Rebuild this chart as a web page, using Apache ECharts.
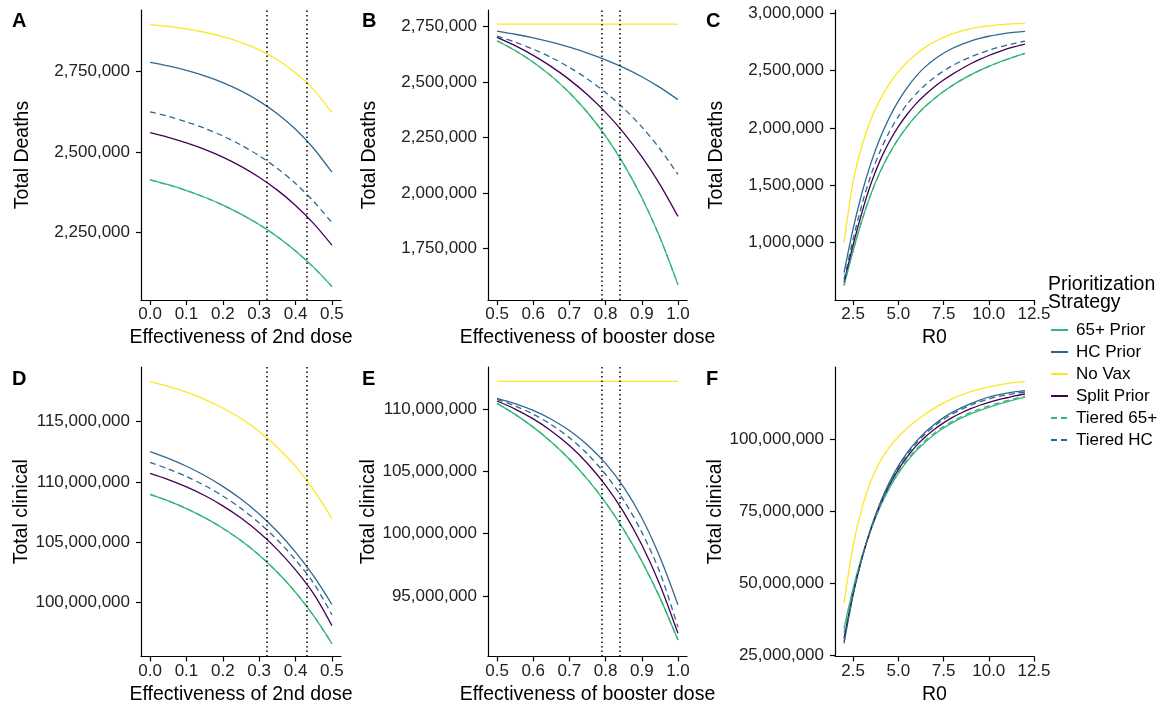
<!DOCTYPE html>
<html>
<head>
<meta charset="utf-8">
<title>Vaccine prioritization strategies</title>
<script src="https://cdn.jsdelivr.net/npm/echarts@6/dist/echarts.min.js"></script>
<style>
  html, body { margin: 0; padding: 0; background: #ffffff; }
  #chart { width: 1162px; height: 710px; }
</style>
</head>
<body>
<div id="chart"></div>
<script>
// ---- x grids ----
const doseX = [0, 0.05, 0.1, 0.15, 0.2, 0.25, 0.3, 0.35, 0.4, 0.45, 0.5];
const boosterX = [0.5, 0.55, 0.6, 0.65, 0.7, 0.75, 0.8, 0.85, 0.9, 0.95, 1.0];
const r0X = [2, 2.5, 3, 3.5, 4, 4.5, 5, 5.5, 6, 6.5, 7, 7.5, 8, 8.5, 9, 9.5, 10, 10.5, 11, 11.5, 12];

// ---- tick labels ----
const doseTicks = [0, 0.1, 0.2, 0.3, 0.4, 0.5];
const boosterTicks = [0.5, 0.6, 0.7, 0.8, 0.9, 1.0];
const r0Ticks = [2.5, 5, 7.5, 10, 12.5];
const deathTicksA = [2250000, 2500000, 2750000];
const deathTicksB = [1750000, 2000000, 2250000, 2500000, 2750000];
const deathTicksC = [1000000, 1500000, 2000000, 2500000, 3000000];
const clinicalTicksD = [100000000, 105000000, 110000000, 115000000];
const clinicalTicksE = [95000000, 100000000, 105000000, 110000000];
const clinicalTicksF = [25000000, 50000000, 75000000, 100000000];

// ---- reference efficacy estimates (dotted lines) ----
const secondDoseMarks = [0.32, 0.43];
const boosterMarks = [0.79, 0.84];

// ---- A: total deaths vs 2nd dose effectiveness ----
const prior65A  = [2413200, 2397900, 2379900, 2359000, 2334700, 2306600, 2273900, 2235900, 2191800, 2140500, 2080900];
const hcA       = [2778900, 2767800, 2754000, 2737100, 2716100, 2690300, 2658400, 2619100, 2570600, 2510800, 2436900];
const noVaxA    = [2896700, 2890800, 2882900, 2872700, 2859200, 2841400, 2818100, 2787300, 2746700, 2693300, 2623000];
const splitA    = [2559900, 2545500, 2528200, 2507900, 2483800, 2455200, 2421300, 2381100, 2333500, 2277000, 2210100];
const tiered65A = [2413200, 2397900, 2379900, 2359000, 2334700, 2306600, 2273900, 2235900, 2191800, 2140500, 2080900];
const tieredHcA = [2625000, 2610800, 2593700, 2573700, 2549800, 2521600, 2488100, 2448600, 2401600, 2345800, 2279800];

// ---- B: total deaths vs booster effectiveness ----
const prior65B  = [2686800, 2642600, 2589800, 2527000, 2452100, 2362900, 2256500, 2130100, 1979200, 1799600, 1585500];
const hcB       = [2730400, 2716000, 2699300, 2679900, 2657400, 2631200, 2600700, 2565300, 2524300, 2476400, 2420900];
const noVaxB    = [2762000, 2762000, 2762000, 2762000, 2762000, 2762000, 2762000, 2762000, 2762000, 2762000, 2762000];
const splitB    = [2701900, 2664300, 2620700, 2570000, 2511200, 2442600, 2363200, 2270800, 2163400, 2038800, 1893900];
const tiered65B = [2686800, 2642600, 2589800, 2527000, 2452100, 2362900, 2256500, 2130100, 1979200, 1799600, 1585500];
const tieredHcB = [2707900, 2680500, 2648300, 2610600, 2566400, 2514300, 2453400, 2381800, 2297900, 2199200, 2083600];

// ---- C: total deaths vs R0 ----
const prior65C  = [628000, 930000, 1200000, 1430000, 1620000, 1775000, 1905000, 2015000, 2110000, 2190000, 2258000, 2318000, 2372000, 2420000, 2463000, 2502000, 2537000, 2569000, 2598000, 2625000, 2650000];
const hcC       = [740000, 1120000, 1440000, 1700000, 1915000, 2090000, 2235000, 2355000, 2455000, 2535000, 2600000, 2652000, 2695000, 2730000, 2758000, 2781000, 2800000, 2815000, 2827000, 2836000, 2843000];
const noVaxC    = [1000000, 1530000, 1850000, 2080000, 2250000, 2385000, 2490000, 2575000, 2645000, 2705000, 2752000, 2790000, 2822000, 2847000, 2866000, 2880000, 2891000, 2899000, 2905000, 2910000, 2913000];
const splitC    = [651000, 980000, 1270000, 1520000, 1720000, 1880000, 2012000, 2122000, 2215000, 2292000, 2360000, 2418000, 2470000, 2517000, 2560000, 2598000, 2632000, 2662000, 2689000, 2712000, 2732000];
const tiered65C = [628000, 930000, 1200000, 1430000, 1620000, 1775000, 1905000, 2015000, 2110000, 2190000, 2258000, 2318000, 2372000, 2420000, 2463000, 2502000, 2537000, 2569000, 2598000, 2625000, 2650000];
const tieredHcC = [680000, 1030000, 1340000, 1595000, 1800000, 1965000, 2100000, 2210000, 2300000, 2378000, 2442000, 2497000, 2545000, 2585000, 2620000, 2650000, 2678000, 2702000, 2722000, 2741000, 2758000];

// ---- D: total clinical vs 2nd dose effectiveness ----
const prior65D  = [108978000, 108436000, 107798000, 107052000, 106174000, 105146000, 103939000, 102522000, 100859000, 98906000, 96616000];
const hcD       = [112514000, 111959000, 111307000, 110539000, 109641000, 108586000, 107348000, 105898000, 104193000, 102193000, 99848000];
const noVaxD    = [118315000, 117922000, 117442000, 116853000, 116138000, 115262000, 114193000, 112887000, 111293000, 109345000, 106967000];
const splitD    = [110718000, 110207000, 109599000, 108881000, 108028000, 107016000, 105820000, 104401000, 102718000, 100724000, 98100000];
const tiered65D = [108978000, 108436000, 107798000, 107052000, 106174000, 105146000, 103939000, 102522000, 100859000, 98906000, 96616000];
const tieredHcD = [111630000, 111088000, 110456000, 109713000, 108840000, 107815000, 106613000, 105202000, 103547000, 101602000, 99000000];

// ---- E: total clinical vs booster effectiveness ----
const prior65E  = [110455000, 109572000, 108546000, 107356000, 105971000, 104361000, 102492000, 100321000, 97799000, 94869000, 91463000];
const hcE       = [110856000, 110431000, 109882000, 109179000, 108278000, 107120000, 105634000, 103725000, 101273000, 98123000, 94300000];
const noVaxE    = [112219000, 112219000, 112219000, 112219000, 112219000, 112219000, 112219000, 112219000, 112219000, 112219000, 112219000];
const splitE    = [110642000, 109995000, 109206000, 108243000, 107067000, 105628000, 103874000, 101730000, 99110000, 95912000, 92005000];
const tiered65E = [110455000, 109572000, 108546000, 107356000, 105971000, 104361000, 102492000, 100321000, 97799000, 94869000, 91463000];
const tieredHcE = [110775000, 110243000, 109578000, 108741000, 107695000, 106388000, 104749000, 102695000, 100123000, 96901000, 92500000];

// ---- F: total clinical vs R0 ----
const prior65F  = [34500000, 48300000, 59700000, 69000000, 76700000, 83000000, 88200000, 92500000, 96100000, 99100000, 101700000, 103900000, 105800000, 107400000, 108800000, 110000000, 111100000, 112100000, 113000000, 113800000, 114600000];
const hcF       = [29300000, 46000000, 59000000, 69500000, 78000000, 85000000, 90800000, 95500000, 99300000, 102500000, 105200000, 107500000, 109400000, 111000000, 112400000, 113600000, 114600000, 115400000, 116000000, 116500000, 116900000];
const noVaxF    = [43200000, 63000000, 76500000, 85800000, 92400000, 97200000, 100900000, 103900000, 106500000, 108800000, 110800000, 112600000, 114100000, 115400000, 116500000, 117400000, 118200000, 118800000, 119300000, 119700000, 120000000];
const splitF    = [31000000, 46600000, 59100000, 69100000, 77300000, 84000000, 89500000, 94000000, 97800000, 100900000, 103500000, 105700000, 107600000, 109200000, 110600000, 111800000, 112800000, 113700000, 114400000, 115100000, 115700000];
const tiered65F = [33000000, 47600000, 59400000, 69000000, 76900000, 83300000, 88600000, 93000000, 96600000, 99600000, 102200000, 104400000, 106300000, 107900000, 109300000, 110500000, 111600000, 112500000, 113400000, 114200000, 114900000];
const tieredHcF = [30000000, 46200000, 59000000, 69300000, 77700000, 84600000, 90300000, 94900000, 98700000, 101900000, 104600000, 106900000, 108800000, 110400000, 111800000, 113000000, 114000000, 114800000, 115400000, 116000000, 116400000];

const strategies = ['65+ Prior', 'HC Prior', 'No Vax', 'Split Prior', 'Tiered 65+', 'Tiered HC'];
const strategyColor = {
  '65+ Prior': '#35B779', 'HC Prior': '#31688E', 'No Vax': '#FDE725',
  'Split Prior': '#440154', 'Tiered 65+': '#35B779', 'Tiered HC': '#31688E'
};
const dashed = { 'Tiered 65+': true, 'Tiered HC': true };

const fontFamily = '"Liberation Sans", Arial, Helvetica, sans-serif';

const panels = [
  { letter: 'A', rect: { left: 141, top: 10, width: 200, height: 290 },
    x: doseX, xMin: -0.025, xMax: 0.525, xTicks: doseTicks, xName: 'Effectiveness of 2nd dose',
    yMin: 2039000, yMax: 2942000, yTicks: deathTicksA, yName: 'Total Deaths', marks: secondDoseMarks,
    values: [prior65A, hcA, noVaxA, splitA, tiered65A, tieredHcA] },
  { letter: 'B', rect: { left: 488, top: 10, width: 199, height: 290 },
    x: boosterX, xMin: 0.475, xMax: 1.025, xTicks: boosterTicks, xName: 'Effectiveness of booster dose',
    yMin: 1516700, yMax: 2825400, yTicks: deathTicksB, yName: 'Total Deaths', marks: boosterMarks,
    values: [prior65B, hcB, noVaxB, splitB, tiered65B, tieredHcB] },
  { letter: 'C', rect: { left: 835, top: 10, width: 199, height: 290 },
    x: r0X, xMin: 1.5, xMax: 12.5, xTicks: r0Ticks, xName: 'R0',
    yMin: 500500, yMax: 3028800, yTicks: deathTicksC, yName: 'Total Deaths', marks: [],
    values: [prior65C, hcC, noVaxC, splitC, tiered65C, tieredHcC] },
  { letter: 'D', rect: { left: 141, top: 367, width: 200, height: 289.5 },
    x: doseX, xMin: -0.025, xMax: 0.525, xTicks: doseTicks, xName: 'Effectiveness of 2nd dose',
    yMin: 95541000, yMax: 119533000, yTicks: clinicalTicksD, yName: 'Total clinical', marks: secondDoseMarks,
    values: [prior65D, hcD, noVaxD, splitD, tiered65D, tieredHcD] },
  { letter: 'E', rect: { left: 488, top: 367, width: 199, height: 289.5 },
    x: boosterX, xMin: 0.475, xMax: 1.025, xTicks: boosterTicks, xName: 'Effectiveness of booster dose',
    yMin: 90147000, yMax: 113369000, yTicks: clinicalTicksE, yName: 'Total clinical', marks: boosterMarks,
    values: [prior65E, hcE, noVaxE, splitE, tiered65E, tieredHcE] },
  { letter: 'F', rect: { left: 835, top: 367, width: 199, height: 289.5 },
    x: r0X, xMin: 1.5, xMax: 12.5, xTicks: r0Ticks, xName: 'R0',
    yMin: 24720000, yMax: 125060000, yTicks: clinicalTicksF, yName: 'Total clinical', marks: [],
    values: [prior65F, hcF, noVaxF, splitF, tiered65F, tieredHcF] }
];

const letterPos = { A: [12, 11], B: [362, 11], C: [706, 11], D: [12, 369], E: [362, 369], F: [706, 369] };

const axisLineStyle = { color: '#000000', width: 1.2 };
const grids = [], xAxes = [], yAxes = [], series = [], graphics = [];

panels.forEach((p, pi) => {
  grids.push(Object.assign({ containLabel: false }, p.rect));

  xAxes.push({
    type: 'value', gridIndex: pi, min: p.xMin, max: p.xMax,
    name: p.xName, nameLocation: 'middle', nameGap: 28,
    nameTextStyle: { fontFamily, fontSize: 19.5, color: '#000000' },
    axisLine: { show: true, onZero: false, lineStyle: axisLineStyle },
    axisTick: { show: true, length: 5, lineStyle: axisLineStyle, customValues: p.xTicks },
    axisLabel: { show: true, margin: 6, fontFamily, fontSize: 17, color: '#222222',
                 customValues: p.xTicks, formatter: v => Number(v).toFixed(1) },
    splitLine: { show: false }
  });

  yAxes.push({
    type: 'value', gridIndex: pi, min: p.yMin, max: p.yMax,
    name: p.yName, nameLocation: 'middle', nameGap: 108,
    nameTextStyle: { fontFamily, fontSize: 19.5, color: '#000000' },
    axisLine: { show: true, onZero: false, lineStyle: axisLineStyle },
    axisTick: { show: true, length: 5, lineStyle: axisLineStyle, customValues: p.yTicks },
    axisLabel: { show: true, margin: 11, fontFamily, fontSize: 17, color: '#222222',
                 customValues: p.yTicks, formatter: v => Math.round(v).toLocaleString('en-US') },
    splitLine: { show: false }
  });

  strategies.forEach((name, si) => {
    const vals = p.values[si];
    const s = {
      type: 'line', name, xAxisIndex: pi, yAxisIndex: pi,
      data: p.x.map((xv, j) => [xv, vals[j]]),
      symbol: 'none', showSymbol: false, smooth: 0.3,
      silent: true, animation: false, z: 3,
      itemStyle: { color: strategyColor[name] },
      lineStyle: { color: strategyColor[name], width: 1.3, type: dashed[name] ? [6, 4] : 'solid' },
      emphasis: { disabled: true }
    };
    if (si === strategies.length - 1 && p.marks.length) {
      s.markLine = {
        silent: true, animation: false, symbol: ['none', 'none'],
        label: { show: false }, emphasis: { disabled: true },
        lineStyle: { color: '#000000', width: 1.5, type: [1.5, 3] },
        data: p.marks.map(v => ({ xAxis: v }))
      };
    }
    series.push(s);
  });

  const lp = letterPos[p.letter];
  graphics.push({
    type: 'text', left: lp[0], top: lp[1], silent: true,
    style: { text: p.letter, fontFamily, fontSize: 20, fontWeight: 'bold', fill: '#000000' }
  });
});

const chart = echarts.init(document.getElementById('chart'), null, { renderer: 'canvas' });
chart.setOption({
  backgroundColor: '#ffffff',
  animation: false,
  title: {
    text: 'Prioritization\nStrategy', left: 1043, top: 270,
    textStyle: { fontFamily, fontSize: 19.5, fontWeight: 'normal', color: '#000000', lineHeight: 18.5 }
  },
  legend: {
    orient: 'vertical', left: 1045, top: 316,
    itemWidth: 17, itemHeight: 12, itemGap: 4, selectedMode: false,
    data: strategies,
    itemStyle: { opacity: 0, borderWidth: 0 },
    textStyle: { fontFamily, fontSize: 17, color: '#000000', lineHeight: 18, padding: [0, 0, 0, 3] }
  },
  grid: grids,
  xAxis: xAxes,
  yAxis: yAxes,
  series,
  graphic: graphics
});
</script>
</body>
</html>
